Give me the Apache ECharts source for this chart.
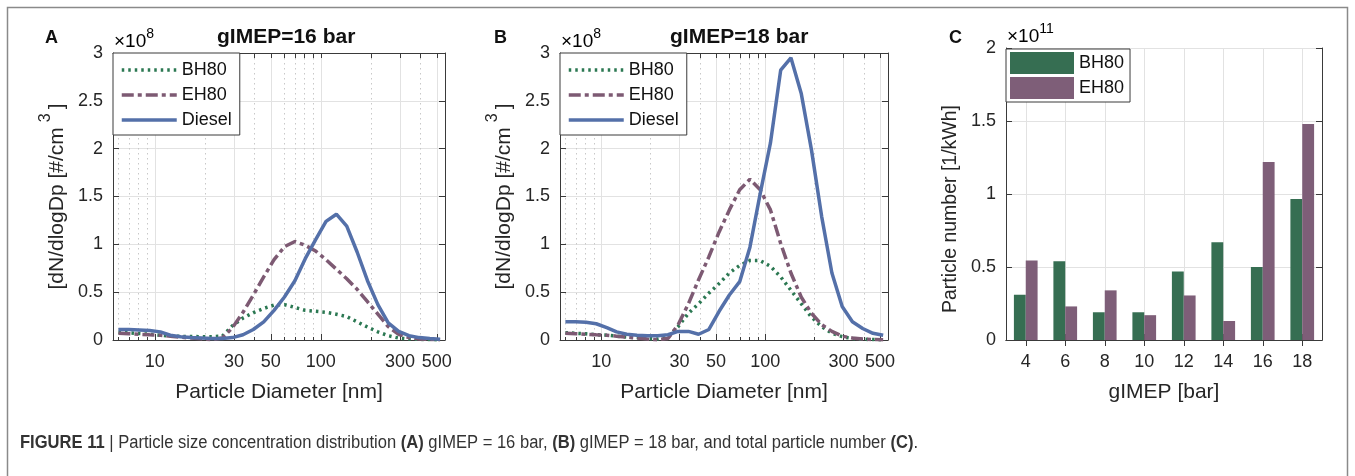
<!DOCTYPE html>
<html>
<head>
<meta charset="utf-8">
<script src="https://cdn.jsdelivr.net/npm/echarts@6/dist/echarts.min.js"></script>
<style>
html, body { margin: 0; padding: 0; background: #fff; }
#chart { width: 1355px; height: 476px; }
</style>
</head>
<body>
<div id="chart"></div>
<script>
// particle diameters of the sizer channels [nm]
var diameters = [6.04, 6.98, 8.06, 9.31, 10.8, 12.4, 14.3, 16.5, 19.1, 22.1, 25.5, 29.4, 34.0, 39.2, 45.3, 52.3,
    60.4, 69.8, 80.6, 93.1, 107.5, 124.1, 143.3, 165.5, 191.1, 220.7, 254.8, 294.3, 339.8, 392.4, 453.2, 523.3];

// gIMEP = 16 bar, dN/dlogDp x 1e8
var bh80At16 = [0.08, 0.075, 0.068, 0.06, 0.05, 0.042, 0.038, 0.036, 0.035, 0.035, 0.04, 0.15, 0.23, 0.285, 0.33, 0.365,
    0.37, 0.34, 0.31, 0.30, 0.29, 0.27, 0.245, 0.19, 0.135, 0.085, 0.045, 0.02, 0.01, 0.006, 0.004, 0.003];
var eh80At16 = [0.07, 0.065, 0.06, 0.055, 0.05, 0.04, 0.03, 0.02, 0.012, 0.005, 0.02, 0.13, 0.29, 0.47, 0.66, 0.84,
    0.975, 1.03, 0.99, 0.93, 0.84, 0.74, 0.64, 0.53, 0.40, 0.27, 0.14, 0.06, 0.025, 0.01, 0.005, 0.003];
var dieselAt16 = [0.11, 0.11, 0.105, 0.10, 0.085, 0.05, 0.035, 0.025, 0.02, 0.015, 0.015, 0.025, 0.055, 0.11, 0.19, 0.31,
    0.45, 0.62, 0.85, 1.05, 1.24, 1.315, 1.19, 0.92, 0.62, 0.37, 0.18, 0.09, 0.045, 0.025, 0.015, 0.008];

// gIMEP = 18 bar, dN/dlogDp x 1e8
var bh80At18 = [0.077, 0.07, 0.065, 0.055, 0.05, 0.04, 0.03, 0.025, 0.015, 0.01, 0.03, 0.14, 0.28, 0.38, 0.49, 0.59,
    0.70, 0.78, 0.83, 0.83, 0.77, 0.66, 0.52, 0.38, 0.24, 0.14, 0.07, 0.035, 0.015, 0.008, 0.005, 0.003];
var eh80At18 = [0.07, 0.065, 0.06, 0.055, 0.05, 0.04, 0.03, 0.02, 0.01, 0.003, 0.015, 0.16, 0.38, 0.63, 0.87, 1.13,
    1.36, 1.57, 1.68, 1.57, 1.36, 1.01, 0.70, 0.45, 0.28, 0.16, 0.09, 0.04, 0.02, 0.01, 0.005, 0.003];
var dieselAt18 = [0.19, 0.19, 0.185, 0.17, 0.13, 0.085, 0.06, 0.05, 0.045, 0.045, 0.055, 0.09, 0.09, 0.06, 0.11, 0.30,
    0.47, 0.61, 0.97, 1.53, 2.06, 2.82, 2.95, 2.58, 1.99, 1.29, 0.70, 0.35, 0.19, 0.12, 0.07, 0.05];

// total particle number, 1/kWh x 1e11
var loads = ['4', '6', '8', '10', '12', '14', '16', '18'];
var bh80Total = [0.31, 0.54, 0.19, 0.19, 0.47, 0.67, 0.50, 0.965];
var eh80Total = [0.545, 0.23, 0.34, 0.17, 0.305, 0.13, 1.22, 1.48];

// tick labels of the diameter axis
var majorTicks = [10, 30, 50, 100, 300, 500];
var minorTicks = [6, 7, 8, 9, 20, 40, 60, 70, 80, 90, 200, 400];

var font = 'Liberation Sans, Arial, Helvetica, sans-serif';
var frame = '#3a3a3a';
var textCol = '#262626';
var green = '#2b7852', purple = '#7d5a73', blue = '#5470a9';
var barGreen = '#366e52', barPurple = '#7e5e78';

function pairs(ys) {
    return diameters.map(function (d, i) { return [d, ys[i]]; });
}

function diameterAxes(g) {
    return [{
        type: 'log', gridIndex: g, min: 5.6, max: 560, position: 'bottom',
        axisLine: { show: true, lineStyle: { color: frame, width: 1 } },
        axisTick: { show: true, inside: true, length: 6, customValues: majorTicks, lineStyle: { color: frame } },
        axisLabel: { customValues: majorTicks, fontSize: 18, color: textCol, margin: 13, fontFamily: font },
        splitLine: { show: true, lineStyle: { color: '#e2e2e2', width: 1 } },
        name: 'Particle Diameter [nm]', nameLocation: 'middle', nameGap: 42,
        nameTextStyle: { fontSize: 21, color: textCol, fontFamily: font }
    }, {
        type: 'log', gridIndex: g, min: 5.6, max: 560, position: 'bottom',
        axisLine: { show: false },
        axisTick: { show: true, inside: true, length: 3, customValues: minorTicks, lineStyle: { color: frame } },
        axisLabel: { show: false },
        splitLine: { show: true, lineStyle: { color: '#c8c8c8', width: 1, type: [1.5, 3.5] } }
    }, {
        type: 'log', gridIndex: g, min: 5.6, max: 560, position: 'top',
        axisLine: { show: true, lineStyle: { color: frame, width: 1 } },
        axisTick: { show: true, inside: true, length: 5, customValues: majorTicks.concat(minorTicks), lineStyle: { color: frame } },
        axisLabel: { show: false },
        splitLine: { show: false }
    }];
}

function valueAxes(g, max, name, nameSize, namePad) {
    return [{
        type: 'value', gridIndex: g, min: 0, max: max, interval: 0.5, position: 'left',
        axisLine: { show: true, lineStyle: { color: frame, width: 1 } },
        axisTick: { show: true, inside: true, length: 6, lineStyle: { color: frame } },
        axisLabel: { fontSize: 18, color: textCol, margin: 10, fontFamily: font },
        splitLine: { show: true, lineStyle: { color: '#e2e2e2', width: 1 } },
        name: name, nameLocation: 'middle', nameGap: 45,
        nameTextStyle: {
            fontSize: nameSize, color: textCol, fontFamily: font, padding: namePad,
            rich: {
                a: { fontSize: nameSize, color: textCol, fontFamily: font, lineHeight: 30, verticalAlign: 'bottom' },
                s: { fontSize: 16, color: textCol, fontFamily: font, lineHeight: 30, verticalAlign: 'top', padding: [0, 4, 0, 5] }
            }
        }
    }, {
        type: 'value', gridIndex: g, min: 0, max: max, interval: 0.5, position: 'right',
        axisLine: { show: true, lineStyle: { color: frame, width: 1 } },
        axisTick: { show: true, inside: true, length: 6, lineStyle: { color: frame } },
        axisLabel: { show: false },
        splitLine: { show: false }
    }];
}

function lineLegend(left) {
    return {
        left: left, top: 53, orient: 'vertical',
        itemWidth: 55, itemHeight: 14, itemGap: 7,
        padding: [8, 8, 6, 7],
        borderColor: frame, borderWidth: 1, backgroundColor: '#fff',
        textStyle: { fontSize: 18, color: '#111', fontFamily: font },
        itemStyle: { opacity: 0 },
        lineStyle: { width: 3.5 },
        data: ['BH80', 'EH80', 'Diesel']
    };
}

function lineSeries(name, ys, xi, yi, color, type) {
    return {
        name: name, type: 'line', xAxisIndex: xi, yAxisIndex: yi,
        data: pairs(ys), showSymbol: false, symbol: 'none', silent: true,
        lineStyle: { color: color, width: 3.5, type: type },
        itemStyle: { color: color }
    };
}

function exponent(left, top, power) {
    return { type: 'text', left: left, top: top, style: { text: '{x|×10}{e|' + power + '}', rich: {
        x: { fontSize: 19, fontFamily: font, color: textCol, lineHeight: 24, verticalAlign: 'bottom' },
        e: { fontSize: 14, fontFamily: font, color: textCol, lineHeight: 24, verticalAlign: 'top' } } } };
}

var dot = [2.5, 4];
var dashDot = [12, 4, 4, 4];
var yName = '{a|[dN/dlogDp [#/cm}{s|3}{a|]}';
var capFont = 'Liberation Sans, Arial, sans-serif';

var myChart = echarts.init(document.getElementById('chart'));
var option = {
    animation: false,
    textStyle: { fontFamily: font },
    grid: [
        { left: 113, top: 53, width: 332, height: 287 },
        { left: 560, top: 53, width: 328, height: 287 },
        { left: 1006, top: 48, width: 316, height: 292 }
    ],
    legend: [
        lineLegend(113),
        lineLegend(560),
        {
            left: 1006, top: 49, orient: 'vertical',
            itemWidth: 64, itemHeight: 22, itemGap: 3,
            padding: [3, 6, 3, 4],
            borderColor: frame, borderWidth: 1, backgroundColor: '#fff',
            textStyle: { fontSize: 18, color: '#111', fontFamily: font },
            data: [
                { name: 'BH80', icon: 'rect', itemStyle: { color: barGreen, opacity: 1 } },
                { name: 'EH80', icon: 'rect', itemStyle: { color: barPurple, opacity: 1 } }
            ]
        }
    ],
    xAxis: diameterAxes(0).concat(diameterAxes(1)).concat([{
        type: 'category', gridIndex: 2, data: loads, position: 'bottom',
        axisLine: { show: true, lineStyle: { color: frame, width: 1 } },
        axisTick: { show: true, inside: true, length: 6, alignWithLabel: true, lineStyle: { color: frame } },
        axisLabel: { fontSize: 18, color: textCol, margin: 13, fontFamily: font },
        splitLine: { show: true, alignWithLabel: true, lineStyle: { color: '#e2e2e2', width: 1 } },
        name: 'gIMEP [bar]', nameLocation: 'middle', nameGap: 42,
        nameTextStyle: { fontSize: 21, color: textCol, fontFamily: font }
    }, {
        type: 'category', gridIndex: 2, data: loads, position: 'top',
        axisLine: { show: true, lineStyle: { color: frame, width: 1 } },
        axisTick: { show: true, inside: true, length: 6, alignWithLabel: true, lineStyle: { color: frame } },
        axisLabel: { show: false },
        splitLine: { show: false }
    }]),
    yAxis: valueAxes(0, 3, yName, 21, 0)
        .concat(valueAxes(1, 3, yName, 21, 0))
        .concat(valueAxes(2, 2, 'Particle number [1/kWh]', 19.5, [0, 30, 0, 0])),
    series: [
        lineSeries('BH80', bh80At16, 0, 0, green, dot),
        lineSeries('EH80', eh80At16, 0, 0, purple, dashDot),
        lineSeries('Diesel', dieselAt16, 0, 0, blue, 'solid'),
        lineSeries('BH80', bh80At18, 3, 2, green, dot),
        lineSeries('EH80', eh80At18, 3, 2, purple, dashDot),
        lineSeries('Diesel', dieselAt18, 3, 2, blue, 'solid'),
        {
            name: 'BH80', type: 'bar', xAxisIndex: 6, yAxisIndex: 4, data: bh80Total,
            barWidth: '30%', barGap: '0%', silent: true, itemStyle: { color: barGreen }
        },
        {
            name: 'EH80', type: 'bar', xAxisIndex: 6, yAxisIndex: 4, data: eh80Total,
            barWidth: '30%', barGap: '0%', silent: true, itemStyle: { color: barPurple }
        }
    ],
    graphic: [
        { type: 'rect', silent: true, shape: { x: 7.5, y: 7.5, width: 1340, height: 520 },
          style: { fill: 'none', stroke: '#8a8a8a', lineWidth: 1.5 } },
        { type: 'text', left: 45, top: 29, style: { text: 'A', font: 'bold 18px ' + font, fill: '#111' } },
        { type: 'text', left: 494, top: 29, style: { text: 'B', font: 'bold 18px ' + font, fill: '#111' } },
        { type: 'text', left: 949, top: 29, style: { text: 'C', font: 'bold 18px ' + font, fill: '#111' } },
        { type: 'text', left: 217, top: 27, style: { text: 'gIMEP=16 bar', font: 'bold 21px ' + font, fill: '#111' } },
        { type: 'text', left: 670, top: 27, style: { text: 'gIMEP=18 bar', font: 'bold 21px ' + font, fill: '#111' } },
        exponent(114, 27, '8'),
        exponent(561, 27, '8'),
        exponent(1007, 22, '11'),
        { type: 'text', left: 20, top: 434, scaleX: 0.92, originX: 0, style: {
            text: '{b|FIGURE 11} {g||} Particle size concentration distribution {b|(A)} gIMEP = 16 bar, {b|(B)} gIMEP = 18 bar, and total particle number {b|(C)}.',
            font: '18px ' + capFont, fill: '#333',
            rich: {
                b: { fontWeight: 'bold', fontSize: 18, fontFamily: capFont, color: '#222' },
                g: { fontSize: 18, color: '#999', fontFamily: capFont }
            } } }
    ]
};

if (option && typeof option === 'object') {
    myChart.setOption(option, true);
}
</script>
</body>
</html>
